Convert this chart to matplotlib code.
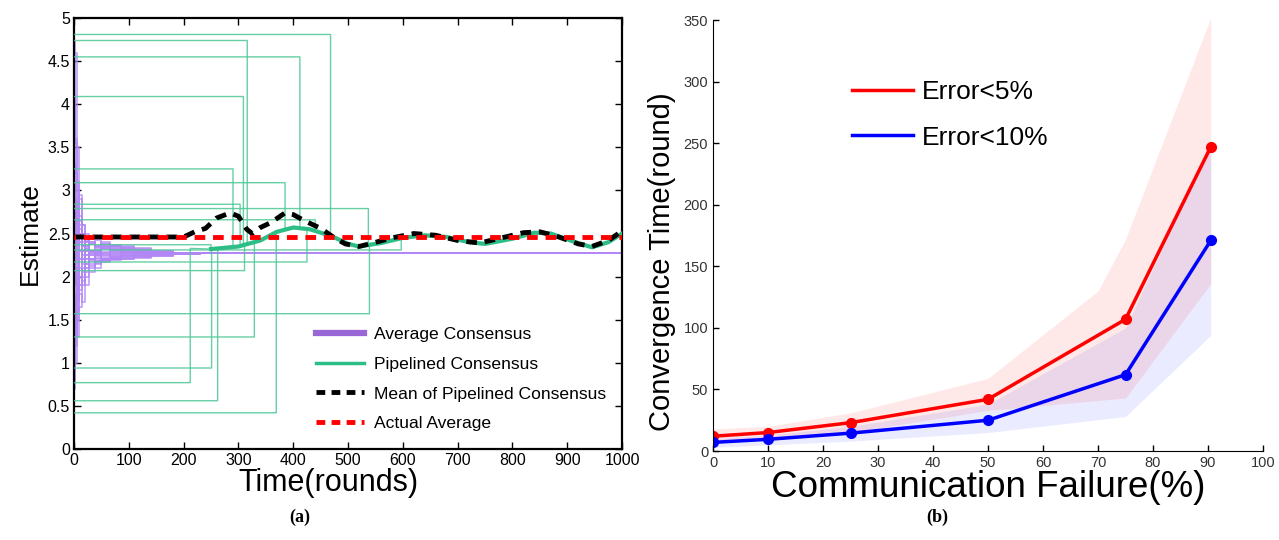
import numpy as np
import matplotlib
matplotlib.use("Agg")
import matplotlib.pyplot as plt
from matplotlib.lines import Line2D

plt.rcParams['font.family'] = ['Liberation Sans', 'DejaVu Sans']

# ---------------- (a) data ----------------
# average consensus trajectories (values at shared time knots)
avg_t = [0, 2, 5, 9, 14, 20, 28, 38, 50, 65, 85, 110, 140, 180, 230, 1000]
avg_runs = [
    [4.72, 4.60, 3.50, 2.90, 2.60, 2.45, 2.40, 2.36, 2.38, 2.35, 2.33, 2.31, 2.29, 2.28, 2.27, 2.27],
    [4.60, 3.60, 3.10, 2.70, 2.50, 2.42, 2.38, 2.34, 2.36, 2.34, 2.32, 2.30, 2.29, 2.28, 2.27, 2.27],
    [3.60, 3.55, 3.00, 2.50, 2.30, 2.20, 2.25, 2.30, 2.32, 2.33, 2.31, 2.30, 2.29, 2.28, 2.27, 2.27],
    [3.10, 3.05, 2.80, 2.95, 2.60, 2.40, 2.30, 2.35, 2.40, 2.36, 2.34, 2.32, 2.30, 2.28, 2.27, 2.27],
    [2.90, 2.70, 2.75, 2.40, 2.50, 2.30, 2.20, 2.25, 2.22, 2.23, 2.24, 2.25, 2.26, 2.27, 2.27, 2.27],
    [2.60, 2.80, 2.50, 2.65, 2.35, 2.40, 2.30, 2.28, 2.33, 2.30, 2.31, 2.30, 2.28, 2.27, 2.27, 2.27],
    [2.20, 1.90, 2.30, 2.00, 2.20, 2.10, 2.20, 2.18, 2.20, 2.21, 2.22, 2.24, 2.25, 2.26, 2.27, 2.27],
    [1.60, 1.50, 1.90, 2.10, 1.95, 2.15, 2.20, 2.22, 2.19, 2.20, 2.22, 2.23, 2.25, 2.26, 2.27, 2.27],
    [1.20, 1.55, 1.75, 1.90, 2.05, 2.10, 2.18, 2.16, 2.18, 2.20, 2.21, 2.23, 2.24, 2.26, 2.27, 2.27],
    [0.80, 1.00, 1.50, 1.80, 1.70, 2.00, 2.15, 2.10, 2.17, 2.19, 2.21, 2.22, 2.24, 2.26, 2.27, 2.27],
    [0.70, 1.30, 1.60, 1.65, 1.90, 2.05, 2.12, 2.18, 2.21, 2.24, 2.25, 2.25, 2.26, 2.27, 2.27, 2.27],
    [1.90, 2.10, 1.70, 2.20, 2.35, 2.20, 2.30, 2.26, 2.36, 2.31, 2.30, 2.29, 2.28, 2.27, 2.27, 2.27],
    [2.40, 2.20, 2.60, 2.30, 2.45, 2.32, 2.30, 2.29, 2.38, 2.37, 2.35, 2.33, 2.30, 2.28, 2.27, 2.27],
    [1.40, 1.80, 2.00, 1.85, 2.10, 2.25, 2.20, 2.25, 2.19, 2.22, 2.24, 2.25, 2.26, 2.26, 2.27, 2.27],
    [3.30, 2.70, 2.40, 2.20, 2.40, 2.35, 2.28, 2.30, 2.33, 2.31, 2.30, 2.29, 2.28, 2.27, 2.27, 2.27],
    [2.10, 2.50, 2.30, 2.45, 2.25, 2.33, 2.30, 2.27, 2.24, 2.27, 2.28, 2.28, 2.27, 2.27, 2.27, 2.27],
    [3.05, 2.40, 2.90, 2.60, 2.30, 2.50, 2.38, 2.42, 2.34, 2.32, 2.30, 2.29, 2.28, 2.27, 2.27, 2.27],
    [1.00, 1.60, 1.30, 2.00, 2.20, 1.90, 2.05, 2.15, 2.20, 2.23, 2.24, 2.25, 2.26, 2.27, 2.27, 2.27],
    [2.80, 2.30, 2.10, 2.55, 2.35, 2.25, 2.40, 2.33, 2.29, 2.35, 2.33, 2.31, 2.29, 2.28, 2.27, 2.27],
    [1.50, 2.20, 2.50, 1.90, 2.00, 2.30, 2.10, 2.24, 2.26, 2.25, 2.26, 2.27, 2.27, 2.27, 2.27, 2.27],
    [4.10, 3.20, 2.60, 2.30, 2.15, 2.35, 2.28, 2.21, 2.27, 2.29, 2.28, 2.27, 2.27, 2.27, 2.27, 2.27],
    [0.90, 1.20, 2.10, 2.40, 2.20, 2.15, 2.25, 2.31, 2.25, 2.26, 2.27, 2.28, 2.27, 2.27, 2.27, 2.27],
]

# pipelined consensus: initial value and switch round of each node
pipe_init = [4.81, 4.74, 4.55, 4.09, 3.25, 3.09, 2.84, 2.79, 2.66, 2.37,
             2.31, 2.17, 2.07, 1.57, 1.30, 0.94, 0.77, 0.56, 0.42]
pipe_switch = [468, 316, 412, 309, 290, 385, 303, 537, 440, 250,
               597, 425, 311, 539, 329, 251, 212, 262, 369]
# shared pipelined estimate after switching
pipe_t = [200, 250, 300, 340, 370, 400, 430, 470, 500, 520, 560, 600, 640,
          680, 720, 750, 800, 840, 870, 910, 945, 975, 1000]
pipe_v = [2.33, 2.32, 2.35, 2.42, 2.52, 2.57, 2.55, 2.47, 2.38, 2.35, 2.39, 2.45, 2.48,
          2.46, 2.40, 2.38, 2.44, 2.51, 2.50, 2.41, 2.34, 2.40, 2.50]

# mean of pipelined consensus
mean_t = [0, 200, 220, 240, 260, 285, 300, 315, 325, 340, 360, 385, 400, 420, 450,
          475, 495, 520, 545, 580, 620, 660, 700, 740, 780, 820, 850, 880, 920, 945, 975, 1000]
mean_v = [2.46, 2.46, 2.52, 2.56, 2.68, 2.74, 2.70, 2.55, 2.50, 2.57, 2.63, 2.74, 2.72, 2.65, 2.56,
          2.45, 2.38, 2.35, 2.39, 2.45, 2.50, 2.48, 2.42, 2.39, 2.45, 2.51, 2.52, 2.47, 2.38, 2.35, 2.42, 2.53]

actual_avg = 2.46

# ---------------- (b) data ----------------
failure = [0, 10, 25, 50, 75, 90.5]
err5 = [12, 15, 23, 42, 107, 247]
err10 = [7, 9.5, 14.5, 25, 62, 171]
band5_x = [0, 10, 25, 50, 70, 75, 90.5]
band5_hi = [18, 20, 31, 59, 130, 172, 352]
band5_lo = [8, 10, 15, 33, 41, 43, 136]
band10_x = [0, 10, 25, 50, 75, 90.5]
band10_hi = [10, 13, 20, 38, 100, 250]
band10_lo = [3, 5, 8, 15, 28, 94]

fig = plt.figure(figsize=(12.79, 5.40), dpi=100)

# ================= panel (a) =================
ax = fig.add_axes([0.0579, 0.1685, 0.4285, 0.798])
purple = '#b286f5'
for run in avg_runs:
    ax.plot(avg_t, run, color=purple, lw=1.3, alpha=0.75, drawstyle='steps-post', zorder=2)

green_thin = '#4cc795'
green_thick = '#2dbd86'
for v0, ts in zip(pipe_init, pipe_switch):
    after = [t for t in pipe_t if t > ts]
    xs = [0, ts, ts] + after
    ys = [v0, v0, np.interp(ts, pipe_t, pipe_v)] + [np.interp(t, pipe_t, pipe_v) for t in after]
    ax.plot(xs, ys, color=green_thin, lw=1.0, alpha=0.85, zorder=3)
ax.plot(pipe_t[1:], pipe_v[1:], color=green_thick, lw=3.0, zorder=4)

ax.plot(mean_t, mean_v, color='black', lw=3.5, linestyle=(0, (2.2, 1.6)), zorder=5)
ax.plot([0, 1000], [actual_avg, actual_avg], color='red', lw=3.5, linestyle=(1.9, (2.2, 1.6)),
        dash_capstyle='butt', zorder=6)

ax.set_xlim(0, 1000)
ax.set_ylim(0, 5)
ax.set_xticks(np.arange(0, 1001, 100))
ax.set_yticks(np.arange(0, 5.01, 0.5))
ax.set_yticklabels(['0', '0.5', '1', '1.5', '2', '2.5', '3', '3.5', '4', '4.5', '5'])
ax.tick_params(direction='in', top=True, right=True, labelsize=11.5, length=5, width=1, pad=3)
for s in ax.spines.values():
    s.set_linewidth(1.6)
ax.set_xlabel('Time(rounds)', fontsize=22)
ax.xaxis.set_label_coords(0.465, -0.045)
ax.set_ylabel('Estimate', fontsize=19, labelpad=4)

handles = [
    Line2D([], [], color='#9966d6', lw=4.5),
    Line2D([], [], color=green_thick, lw=2.5),
    Line2D([], [], color='black', lw=3.5, dashes=(1.8, 1.3)),
    Line2D([], [], color='red', lw=3.5, dashes=(1.8, 1.3)),
]
ax.legend(handles, ['Average Consensus', 'Pipelined Consensus', 'Mean of Pipelined Consensus',
                    'Actual Average'],
          loc='lower right', bbox_to_anchor=(1.0, 0.005), frameon=False, fontsize=12.6,
          handlelength=2.7, labelspacing=0.82, handletextpad=0.6)

fig.text(300 / 1279, 1 - 517 / 540, '(a)', fontsize=13, fontweight='bold',
         family='Liberation Serif', ha='center', va='center')

# ================= panel (b) =================
bx = fig.add_axes([0.5575, 0.1648, 0.43, 0.798])
bx.fill_between(band5_x, band5_lo, band5_hi, color='red', alpha=0.09, lw=0)
bx.fill_between(band10_x, band10_lo, band10_hi, color='blue', alpha=0.08, lw=0)
bx.plot(failure, err5, color='red', lw=2.5, marker='o', markersize=7, label='Error<5%')
bx.plot(failure, err10, color='blue', lw=2.5, marker='o', markersize=7, label='Error<10%')

bx.set_xlim(0, 100)
bx.set_ylim(0, 350)
bx.set_xticks(np.arange(0, 101, 10))
bx.set_yticks(np.arange(0, 351, 50))
bx.spines['top'].set_visible(False)
bx.spines['right'].set_visible(False)
bx.tick_params(direction='in', labelsize=10.5, labelcolor='#333333', length=4, width=1)
bx.set_xlabel('Communication Failure(%)', fontsize=26.5, labelpad=0)
bx.set_ylabel('Convergence Time(round)', fontsize=21)
bx.yaxis.set_label_coords(-0.068, 0.44)

leg = bx.legend(loc='upper left', bbox_to_anchor=(0.21, 0.915), frameon=False, fontsize=19,
                handlelength=2.3, handletextpad=0.35, labelspacing=0.8)
for h in leg.legend_handles:
    h.set_marker('')

fig.text(937 / 1279, 1 - 517 / 540, '(b)', fontsize=13, fontweight='bold',
         family='Liberation Serif', ha='center', va='center')

fig.savefig('out.png', dpi=100)
